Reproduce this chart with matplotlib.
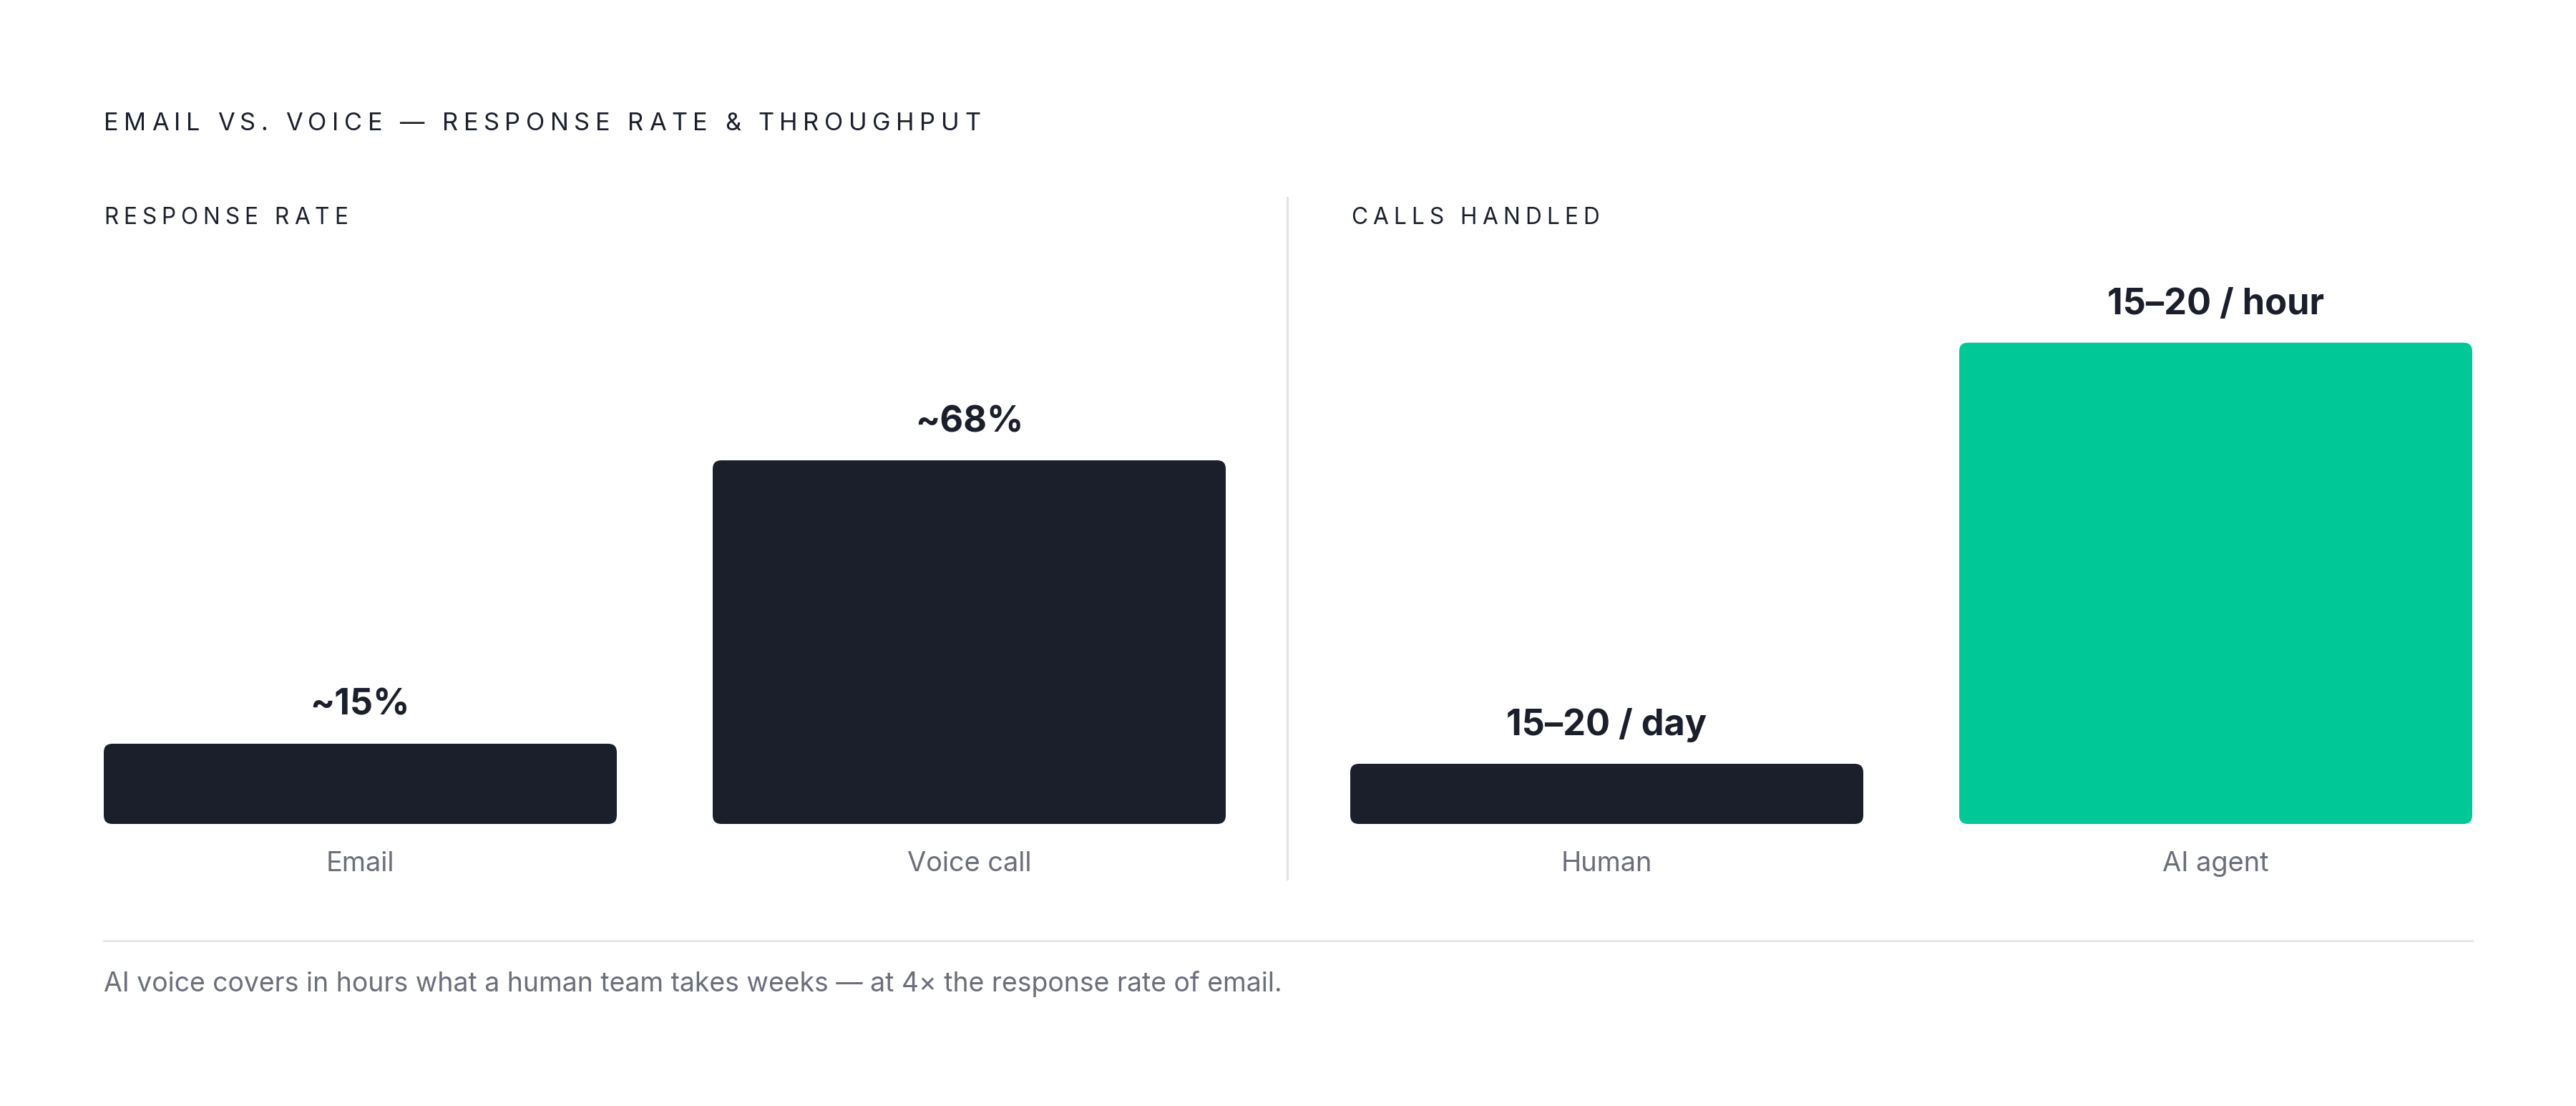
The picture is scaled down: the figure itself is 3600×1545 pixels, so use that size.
import matplotlib
matplotlib.use("Agg")
import matplotlib.pyplot as plt
from matplotlib.patches import FancyBboxPatch
from matplotlib.lines import Line2D

plt.rcParams['font.family'] = ['Inter', 'DejaVu Sans']

# ---------------- data ----------------
title = "EMAIL VS. VOICE — RESPONSE RATE & THROUGHPUT"
left_title = "RESPONSE RATE"
right_title = "CALLS HANDLED"
left_cats = ["Email", "Voice call"]
left_vals = [15, 68]            # response rate, %
left_labels = ["~15%", "~68%"]
right_cats = ["Human", "AI agent"]
right_vals = [17.5, 140]        # calls per 8-hour day (15–20/day vs 15–20/hour)
right_labels = ["15–20 / day", "15–20 / hour"]
caption = "AI voice covers in hours what a human team takes weeks — at 4× the response rate of email."

# ---------------- style ----------------
DARK = "#1b1f2c"
GREEN = "#00c896"
GREY = "#6b6e7b"
RULE = "#e2e2e8"
left_colors = [DARK, DARK]
right_colors = [DARK, GREEN]

W, H = 3600, 1545
DPI = 200
PT = 72 / DPI  # points per pixel

fig = plt.figure(figsize=(W / DPI, H / DPI), dpi=DPI)
fig.patch.set_facecolor("white")


def fx(px):
    return px / W


def fy(py):
    return 1 - py / H


renderer = fig.canvas.get_renderer()


def text_width(t, size, weight):
    tt = fig.text(0, 0, t, fontsize=size, fontweight=weight)
    w = tt.get_window_extent(renderer=renderer).width
    tt.remove()
    return w


def spaced_text(x_px, y_px, s, size, width_px, color, weight="normal"):
    w_hh = text_width("HH", size, weight)
    adv = [text_width("H" + c + "H", size, weight) - w_hh for c in s]
    natural = sum(adv[:-1]) + text_width(s[-1], size, weight)
    track = (width_px - natural) / (len(s) - 1)
    x = x_px
    for c, a in zip(s, adv):
        if c != " ":
            fig.text(fx(x), fy(y_px), c, fontsize=size, fontweight=weight,
                     color=color, ha="left", va="baseline")
        x += a + track


BAR_W = 717 / 851
RADIUS_PX = 12


def draw_panel(rect_px, cats, vals, labels, colors, ymax):
    x0, x1, ytop, ybot = rect_px
    ax = fig.add_axes([fx(x0), fy(ybot), (x1 - x0) / W, (ybot - ytop) / H])
    ax.set_xlim(-BAR_W / 2, len(vals) - 1 + BAR_W / 2)
    ax.set_ylim(0, ymax)
    ax.axis("off")
    xpu = (len(vals) - 1 + BAR_W) / (x1 - x0)
    ypu = ymax / (ybot - ytop)
    for i, (c, v, lbl, col) in enumerate(zip(cats, vals, labels, colors)):
        patch = FancyBboxPatch(
            (i - BAR_W / 2, 0), BAR_W, v,
            boxstyle=f"round,pad=0,rounding_size={RADIUS_PX * xpu}",
            mutation_aspect=ypu / xpu,
            facecolor=col, edgecolor="none")
        ax.add_patch(patch)
        ax.annotate(lbl, xy=(i, v), xytext=(0, 40 * PT), textcoords="offset points",
                    ha="center", va="baseline", fontsize=50.5 * PT,
                    fontweight="bold", color=DARK)
        ax.annotate(c, xy=(i, 0), xytext=(0, -66 * PT), textcoords="offset points",
                    ha="center", va="baseline", fontsize=38 * PT, color=GREY)
    return ax


draw_panel((145, 1713, 404, 1151), left_cats, left_vals, left_labels, left_colors, 100)
draw_panel((1887, 3455, 404, 1151), right_cats, right_vals, right_labels, right_colors,
           max(right_vals) / 0.9)

# titles
spaced_text(145, 182, title, 34.4 * PT, 1225, DARK)
spaced_text(145, 313, left_title, 31.6 * PT, 341, DARK)
spaced_text(1888, 313, right_title, 31.6 * PT, 347, DARK)

# divider and rule
fig.add_artist(Line2D([fx(1799), fx(1799)], [fy(276), fy(1228)], transform=fig.transFigure,
                      color=RULE, lw=3 * PT))
fig.add_artist(Line2D([fx(145), fx(3455)], [fy(1314), fy(1314)], transform=fig.transFigure,
                      color=RULE, lw=2.6 * PT))

fig.text(fx(145), fy(1385), caption, fontsize=37.4 * PT, color=GREY, ha="left", va="baseline")

fig.savefig("out.png", dpi=DPI, facecolor="white")
